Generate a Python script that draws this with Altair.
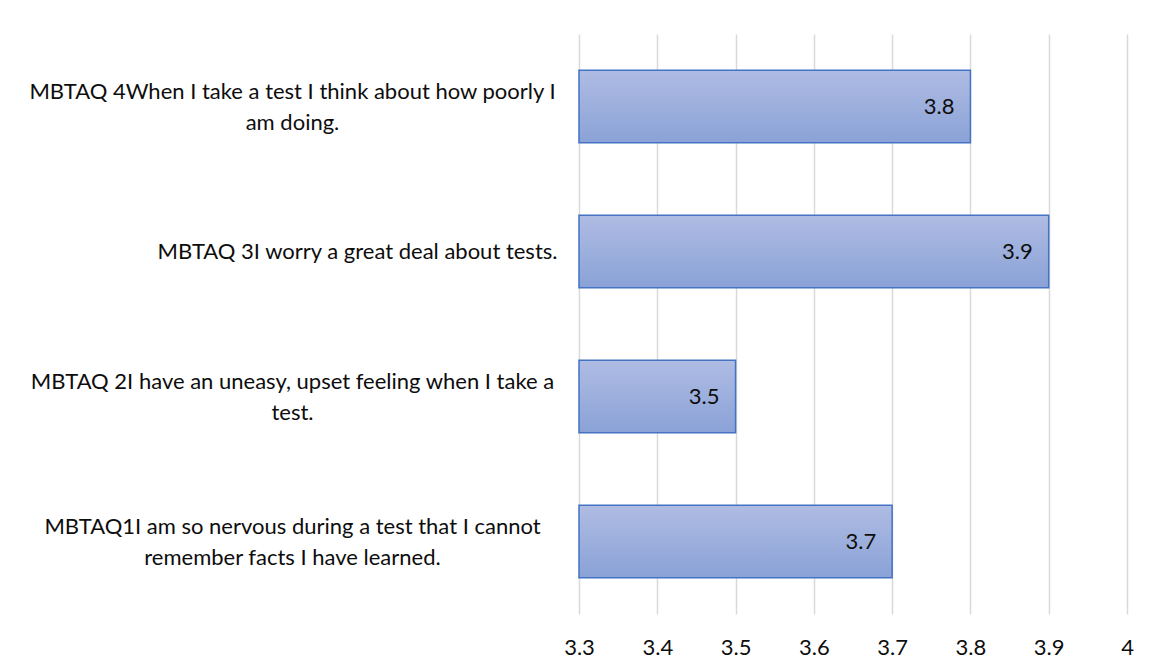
import altair as alt
import pandas as pd

# Categories, top to bottom ("|" marks a line break in the wrapped label)
items = [
    "MBTAQ 4When I take a test I think about how poorly I|am doing.",
    "MBTAQ 3I worry a great deal about tests.",
    "MBTAQ 2I have an uneasy, upset feeling when I take a|test.",
    "MBTAQ1I am so nervous during a test that I cannot|remember facts I have learned.",
]
means = [3.8, 3.9, 3.5, 3.7]
axis_min = 3.3
axis_max = 4.0
tick_values = [3.3, 3.4, 3.5, 3.6, 3.7, 3.8, 3.9, 4.0]

single_line = [s for s in items if "|" not in s]

df = pd.DataFrame({"item": items, "mean": means, "base": [axis_min] * len(items)})

FONT = "Lato"
FS = 22
TXT = "#0d0d0d"

single_test = " || ".join([f"datum.value == '{s}'" for s in single_line]) or "false"

y_scale = alt.Scale(paddingInner=0.5, paddingOuter=0.25)
x_scale = alt.Scale(domain=[axis_min, axis_max], nice=False, zero=False)

x_axis = alt.Axis(
    orient="bottom",
    values=tick_values,
    format=".1~f",
    title=None,
    grid=True,
    gridColor="#d9d9d9",
    gridWidth=1.5,
    domain=False,
    ticks=False,
    labelFlush=False,
    labelPadding=23,
    labelFont=FONT,
    labelFontSize=FS,
    labelColor=TXT,
)

gradient = alt.Gradient(
    gradient="linear",
    x1=0, y1=0, x2=0, y2=1,
    stops=[
        alt.GradientStop(color="#afbce3", offset=0),
        alt.GradientStop(color="#8aa2d7", offset=1),
    ],
)

bars = alt.Chart(df).mark_bar(
    color=gradient, stroke="#4472c4", strokeWidth=1.5
).encode(
    x=alt.X("mean:Q", scale=x_scale, axis=x_axis),
    x2="base:Q",
    y=alt.Y(
        "item:N",
        sort=None,
        scale=y_scale,
        axis=alt.Axis(
            orient="left",
            title=None,
            domain=False,
            ticks=False,
            grid=False,
            labelAlign="center",
            labelBaseline="middle",
            labelPadding=287,
            labelOffset=-15,
            labelLimit=0,
            labelFont=FONT,
            labelFontSize=FS,
            labelColor=TXT,
            labelLineHeight=31,
            labelExpr=f"({single_test}) ? '' : split(datum.value, '|')",
        ),
    ),
)

labels = alt.Chart(df).mark_text(
    align="right", baseline="middle", dx=-16, font=FONT, fontSize=FS, color=TXT
).encode(
    x=alt.X("mean:Q", scale=x_scale, axis=x_axis),
    y=alt.Y(
        "item:N",
        sort=None,
        scale=y_scale,
        axis=alt.Axis(
            orient="left",
            title=None,
            domain=False,
            ticks=False,
            grid=False,
            labelAlign="right",
            labelBaseline="middle",
            labelPadding=22,
            labelLimit=0,
            labelFont=FONT,
            labelFontSize=FS,
            labelColor=TXT,
            labelExpr=f"({single_test}) ? datum.value : ''",
        ),
    ),
    text=alt.Text("mean:Q", format=".1f"),
)

chart = (
    alt.layer(bars, labels)
    .resolve_axis(y="independent")
    .resolve_scale(y="shared")
    .properties(
        width=548,
        height=580,
        background="white",
        autosize=alt.AutoSizeParams(type="none"),
        padding={"left": 571, "top": 26, "right": 20, "bottom": 48},
    )
    .configure_view(strokeWidth=0, strokeOpacity=0)
    .configure_axis(domain=False, ticks=False)
)

chart.save("out.html", embed_options={"renderer": "svg", "actions": False})
